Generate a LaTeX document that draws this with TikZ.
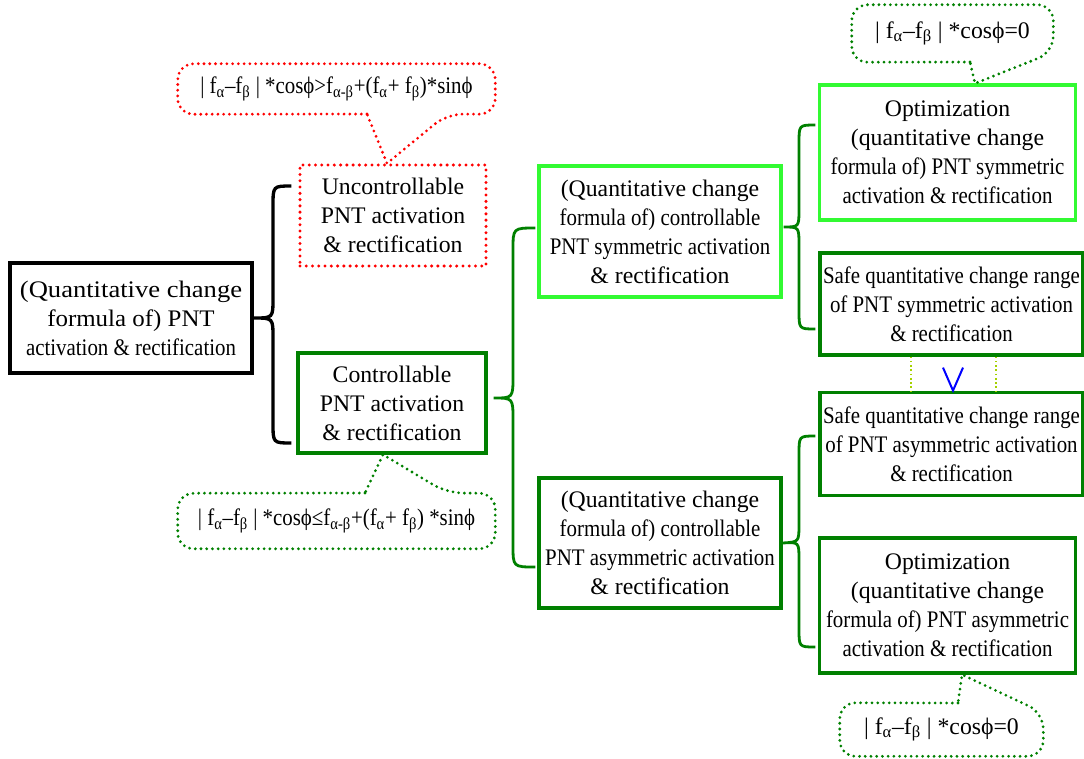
\documentclass[tikz,border=0pt]{standalone}
\usepackage{fontspec}
\setmainfont{Liberation Serif}
\newfontfamily\condfont[FakeStretch=0.88]{Liberation Serif}
\newfontfamily\widefont[FakeStretch=1.12]{Liberation Serif}
\newfontfamily\semiwidefont[FakeStretch=1.05]{Liberation Serif}
\usepackage{xcolor}
\usetikzlibrary{calc}

\definecolor{darkgrn}{RGB}{0,128,0}
\definecolor{litegrn}{RGB}{50,250,50}
\definecolor{ygrn}{RGB}{165,210,0}
\newcommand{\cnd}[1]{{\condfont #1}}
\newcommand{\subs}[1]{\textsubscript{#1}}

\begin{document}
\begin{tikzpicture}[
    x=0.75pt, y=-0.75pt,
    every node/.style={font=\fontsize{17.8}{21.8}\selectfont},
    box/.style={draw=#1, line width=2.4pt, fill=white, align=center, inner sep=2pt},
    dotbox/.style={draw=#1, line width=2.5pt, dash pattern=on 0pt off 4.7pt, line cap=round, align=center, inner sep=2pt},
    calltext/.style={align=center, inner sep=0pt},
    callline/.style={draw=#1, line width=2.3pt, dash pattern=on 0pt off 4.3pt, line cap=round},
    brace/.style={draw=#1, line width=2.1pt},
  ]
  \useasboundingbox (0,0) rectangle (1084,758);

  % ---- Level 1 ----
  \node[box=black, line width=3pt, minimum width=181.5pt, minimum height=82.5pt] (root) at (131,318)
    {{\widefont (Quantitative change}\\{\semiwidefont formula of) PNT}\\\cnd{activation \& rectification}};

  % ---- Level 2 ----
  \node[dotbox=red, minimum width=139.5pt, minimum height=75.75pt] (unctrl) at (393,215.5)
    {Uncontrollable\\PNT activation\\\& rectification};
  \node[box=darkgrn, minimum width=141pt, minimum height=75pt] (ctrl) at (392,403)
    {Controllable\\PNT activation\\\& rectification};

  % ---- Level 3 ----
  \node[box=litegrn, minimum width=181.5pt, minimum height=98.25pt] (midsym) at (660,231.5)
    {(Quantitative change\\\cnd{formula of) controllable}\\\cnd{PNT symmetric activation}\\\& rectification};
  \node[box=darkgrn, minimum width=181.5pt, minimum height=97.5pt] (midasym) at (660,543)
    {(Quantitative change\\\cnd{formula of) controllable}\\\cnd{PNT asymmetric activation}\\\& rectification};

  % ---- Level 4 ----
  \node[box=litegrn, minimum width=192pt, minimum height=101.25pt] (optsym) at (947.5,152.5)
    {Optimization\\(quantitative change\\\cnd{formula of) PNT symmetric}\\\cnd{activation \& rectification}};
  \node[box=darkgrn, minimum width=197.25pt, minimum height=76.5pt] (safesym) at (951.5,304)
    {\cnd{Safe quantitative change range}\\\cnd{of PNT symmetric activation}\\\cnd{\& rectification}};
  \node[box=darkgrn, minimum width=197.25pt, minimum height=77.25pt] (safeasym) at (951.5,444)
    {\cnd{Safe quantitative change range}\\\cnd{of PNT asymmetric activation}\\\cnd{\& rectification}};
  \node[box=darkgrn, minimum width=192pt, minimum height=101.25pt] (optasym) at (947.5,605.5)
    {Optimization\\(quantitative change\\\cnd{formula of) PNT asymmetric}\\\cnd{activation \& rectification}};

  % ---- Callout texts ----
  \node[calltext, minimum width=237.75pt, minimum height=37.5pt] (cUnc) at (336.5,89)
    {\cnd{| f\subs{α}–f\subs{β} | *cosϕ>f\subs{α-β}+(f\subs{α}+ f\subs{β})*sinϕ}};
  \node[calltext, minimum width=237.75pt, minimum height=41.25pt] (cCtrl) at (336.5,521)
    {\cnd{| f\subs{α}–f\subs{β} | *cosϕ≤f\subs{α-β}+(f\subs{α}+ f\subs{β}) *sinϕ}};
  \node[calltext, minimum width=150.75pt, minimum height=42.75pt] (cOptS) at (952.5,33.5)
    {| f\subs{α}–f\subs{β} | *cosϕ=0};
  \node[calltext, minimum width=152.25pt, minimum height=39.75pt] (cOptA) at (941.5,729.5)
    {| f\subs{α}–f\subs{β} | *cosϕ=0};

  % ---- Callout outlines ----
  \draw[callline=red] (367,114) [rounded corners=12] -- (cUnc.south west) -- (cUnc.north west)
    -- (cUnc.north east) -- (cUnc.south east) -- (447,114) [sharp corners]
    -- ($(unctrl.north)+(-6,0)$) -- cycle;
  \draw[callline=darkgrn] (365,493) [rounded corners=12] -- (cCtrl.north west) -- (cCtrl.south west)
    -- (cCtrl.south east) -- (cCtrl.north east) -- (447,493) [sharp corners]
    -- ($(ctrl.south)+(-9,0)$) -- cycle;
  \draw[callline=darkgrn] (970,62) [rounded corners=12] -- (cOptS.south west) -- (cOptS.north west)
    -- (cOptS.north east) -- ($(cOptS.south east)+(0,-10)$) [sharp corners]
    -- ($(optsym.north)+(27.5,0)$) -- cycle;
  \draw[callline=darkgrn] (958,703) [rounded corners=12] -- (cOptA.north west) -- (cOptA.south west)
    -- (cOptA.south east) -- ($(cOptA.north east)+(0,10)$) [sharp corners]
    -- ($(optasym.south)+(14.5,0)$) -- cycle;

  % ---- Braces ----
  \draw[brace=black, line width=2.5pt] ($(unctrl.west)+(-7,-29.5)$) .. controls (273,186) .. (273,206)
    -- (273,298) .. controls (273,318) .. (root.east) .. controls (273,318) .. (273,338)
    -- (273,423) .. controls (273,443) .. ($(ctrl.west)+(-5,40)$);
  \draw[brace=darkgrn] ($(midsym.west)+(-2,-3.5)$) .. controls (513,228) .. (513,250)
    -- (513,376) .. controls (513,398) .. ($(ctrl.east)+(6,-5)$) .. controls (513,398) .. (513,420)
    -- (513,545) .. controls (513,567) .. ($(midasym.west)+(-2,24)$);
  \draw[brace=darkgrn] ($(optsym.west)+(-2.5,-27.5)$) .. controls (799,125) .. (799,143)
    -- (799,209) .. controls (799,227) .. ($(midsym.east)+(1,-4.5)$) .. controls (799,227) .. (799,245)
    -- (799,311) .. controls (799,329) .. ($(safesym.west)+(-3,25)$);
  \draw[brace=darkgrn] ($(safeasym.west)+(-3,-8)$) .. controls (799,436) .. (799,454)
    -- (799,524) .. controls (799,542) .. (midasym.east) .. controls (799,542) .. (799,560)
    -- (799,629) .. controls (799,647) .. ($(optasym.west)+(-2.5,41.5)$);

  % ---- Comparison of the safe ranges ----
  \draw[ygrn, line width=1.5pt, dash pattern=on 1.2pt off 2pt] ($(safesym.south)+(-40.5,0)$) -- ($(safeasym.north)+(-40.5,0)$);
  \draw[ygrn, line width=1.5pt, dash pattern=on 1.2pt off 2pt] ($(safesym.south)+(44.5,0)$) -- ($(safeasym.north)+(44.5,0)$);
  \draw[blue, line width=1.5pt] ($(safesym.south)+(-8.5,11)$) -- ($(safesym.south)+(1.5,34)$) -- ($(safesym.south)+(11.5,11)$);

\end{tikzpicture}
\end{document}
